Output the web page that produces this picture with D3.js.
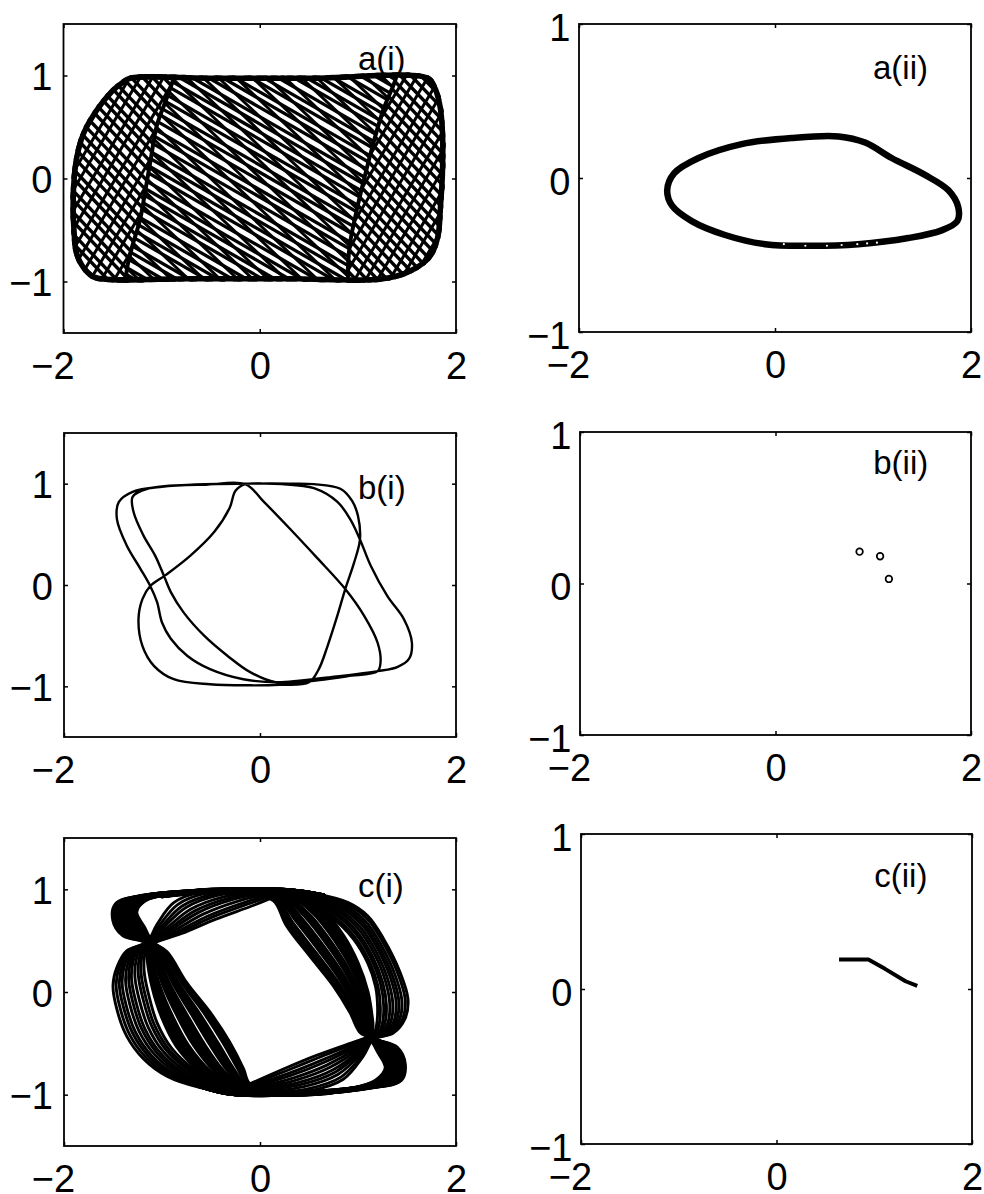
<!DOCTYPE html>
<html>
<head>
<meta charset="utf-8">
<script src="https://cdn.jsdelivr.net/npm/d3@7"></script>
<style>
  html, body { margin: 0; padding: 0; background: #fff; }
  svg { display: block; }
  text { font-family: "Liberation Sans", Arial, Helvetica, sans-serif; fill: #000; }
</style>
</head>
<body>
<svg id="fig" width="984" height="1194"></svg>
<script>
// ---------------- axes ----------------
const xTicks = [-2, 0, 2];
const yTicks = [-1, 0, 1];
const xDomain = [-2, 2];
const yDomainWide = [-1.5, 1.5];   // phase portraits (i)
const yDomainNarrow = [-1, 1];     // sections (ii)

// ---------------- a(i): quasi-periodic orbit ----------------
const aOutline = [[-1.32,1.0],[-0.5,1.0],[0.5,1.0],[1.72,1.0],[1.80,0.91],[1.86,0.73],[1.89,0.45],[1.89,0.06],
  [1.87,-0.27],[1.84,-0.58],[1.75,-0.78],[1.55,-0.92],[1.26,-1.0],[0.3,-1.0],[-0.7,-1.0],[-1.62,-1.0],
  [-1.74,-0.96],[-1.84,-0.85],[-1.90,-0.71],[-1.92,-0.52],[-1.93,-0.27],[-1.92,-0.01],[-1.89,0.22],
  [-1.82,0.45],[-1.69,0.67],[-1.53,0.86],[-1.42,0.95]];
const aLeftEdge = [[-0.86,1.1],[-0.88,0.97],[-0.94,0.80],[-1.05,0.51],[-1.11,0.19],[-1.17,-0.14],
  [-1.22,-0.40],[-1.30,-0.66],[-1.35,-0.86],[-1.38,-1.1]];
const aRightEdge = [[1.42,1.1],[1.38,0.95],[1.26,0.67],[1.16,0.35],[1.07,0.02],[0.99,-0.30],
  [0.92,-0.63],[0.90,-0.86],[0.91,-1.1]];
// strand families: intercepts at each family's reference abscissa
const aLeftSteep = [-1.46,-1.36,-1.24,-1.15,-1.03,-0.94,-0.82,-0.73,-0.61,-0.52,-0.40,-0.31,-0.19,-0.09,
  0.02,0.12,0.23,0.33,0.45,0.55,0.66,0.75,0.87,0.96,1.08,1.17,1.29,1.39,1.50,1.61];
const aLeftCross = [-1.95,-1.77,-1.56,-1.38,-1.18,-1.01,-0.80,-0.62,-0.43,-0.23,-0.05,0.15,0.33,0.53,
  0.70,0.91,1.08,1.29,1.46,1.66];
const aMidMain = [-1.76,-1.68,-1.61,-1.52,-1.44,-1.37,-1.28,-1.21,-1.13,-1.05,-0.96,-0.89,-0.81,-0.74,
  -0.66,-0.57,-0.50,-0.42,-0.35,-0.26,-0.18,-0.11,-0.02,0.06,0.13,0.22,0.29,0.38,0.45,0.53,0.60,0.69,
  0.77,0.84,0.93,1.00,1.08,1.17,1.24,1.32,1.39,1.48,1.56,1.64,1.72];
const aMidCross = [-2.24,-2.09,-1.95,-1.79,-1.63,-1.49,-1.34,-1.18,-1.04,-0.90,-0.74,-0.59,-0.45,-0.29,
  -0.14,0.01,0.17,0.31,0.46,0.60,0.76,0.91,1.05,1.21,1.36,1.50,1.66,1.81,1.96,2.11,2.26];
const aRightSteep = [-1.50,-1.40,-1.29,-1.18,-1.08,-0.98,-0.87,-0.76,-0.66,-0.56,-0.45,-0.34,-0.24,-0.13,
  -0.03,0.08,0.18,0.29,0.40,0.50,0.61,0.71,0.82,0.92,1.03,1.14,1.24,1.34,1.45];
const aRightCross = [-1.80,-1.61,-1.43,-1.23,-1.04,-0.86,-0.66,-0.47,-0.29,-0.09,0.10,0.28,0.48,0.67,
  0.85,1.05,1.24,1.43,1.62,1.81];
const aSlopes = { leftSteep: -1.0, leftCross: 1.6, midMain: -0.55, midCross: -0.9, rightSteep: -1.0, rightCross: 1.6 };
const aRefX = { left: -1.5, mid: 0, right: 1.4 };

// ---------------- a(ii): section, closed curve ----------------
const aiiRing = [[-1.10,-0.08],[-1.03,0.03],[-0.78,0.13],[-0.34,0.22],[0.17,0.26],[0.65,0.27],[0.92,0.23],
  [1.19,0.13],[1.53,0.02],[1.77,-0.08],[1.87,-0.19],[1.86,-0.28],[1.70,-0.34],[1.36,-0.39],[0.85,-0.43],
  [0.34,-0.44],[-0.10,-0.43],[-0.51,-0.37],[-0.85,-0.28],[-1.05,-0.18]];
const aiiMarks = [[0.09,-0.43],[0.31,-0.44],[0.53,-0.44],[0.68,-0.435],[0.84,-0.43],[0.94,-0.425],[1.04,-0.42]];

// ---------------- b(i): period-3 orbit ----------------
const bOrbit = [[0.50,-0.96],[0.20,-0.985],[-0.10,-0.99],[-0.51,-0.98],[-0.88,-0.93],[-1.08,-0.80],
  [-1.20,-0.60],[-1.24,-0.34],[-1.20,-0.14],[-1.12,-0.01],[-0.96,0.10],[-0.71,0.29],[-0.47,0.52],
  [-0.31,0.76],[-0.25,0.93],[-0.15,0.995],[0.05,1.0],[0.22,0.995],[0.55,0.955],[0.79,0.82],[0.92,0.65],[1.02,0.45],
  [1.13,0.19],[1.30,-0.11],[1.47,-0.34],[1.55,-0.57],[1.52,-0.73],[1.40,-0.81],[1.20,-0.85],[0.72,-0.91],
  [0.40,-0.945],[0.18,-0.96],[-0.17,-0.93],[-0.51,-0.83],[-0.74,-0.70],[-0.91,-0.53],[-1.00,-0.37],
  [-1.05,-0.17],[-1.12,-0.01],[-1.22,0.16],[-1.36,0.39],[-1.46,0.65],[-1.44,0.82],[-1.30,0.92],
  [-1.00,0.97],[-0.55,0.99],[-0.15,0.995],[0.04,0.82],[0.31,0.55],[0.58,0.27],[0.87,-0.04],[1.06,-0.30],
  [1.20,-0.57],[1.23,-0.76],[1.20,-0.85],[0.89,-0.90],[0.38,-0.96],[0.18,-0.965],[-0.10,-0.86],
  [-0.33,-0.70],[-0.57,-0.50],[-0.78,-0.27],[-0.91,-0.07],[-0.98,0.09],[-1.07,0.29],[-1.19,0.49],
  [-1.29,0.72],[-1.30,0.87],[-1.15,0.95],[-0.70,0.99],[-0.10,1.0],[0.30,1.0],[0.55,0.995],[0.82,0.95],
  [0.94,0.83],[1.00,0.68],[1.02,0.45],[0.96,0.22],[0.87,-0.04],[0.79,-0.30],[0.69,-0.60],[0.60,-0.83]];

// ---------------- b(ii): section, three points ----------------
const biiPoints = [[0.86,0.21],[1.07,0.18],[1.16,0.03]];

// ---------------- c(i): chaotic orbit, four bundles ----------------
const cLeftCoreInner = [[1.0,-0.93],[0.6,-0.965],[0.1,-0.955],[-0.11,-0.89],[-0.17,-0.75],[-0.31,-0.49],[-0.51,-0.20],
  [-0.75,0.09],[-0.95,0.39],[-1.10,0.49],[-1.18,0.63],[-1.26,0.78],[-1.17,0.89],[-0.9,0.955],[-0.3,0.985],[0.3,0.99],[0.65,0.94]];
const cLeftCoreOuter = [[1.0,-0.935],[0.6,-0.995],[0.05,-0.995],[-0.3,-0.93],[-0.6,-0.78],[-0.85,-0.53],[-1.0,-0.25],
  [-1.1,0.05],[-1.15,0.33],[-1.15,0.47],[-1.40,0.55],[-1.50,0.70],[-1.47,0.86],[-1.2,0.94],[-0.5,0.995],[0.3,0.995],[0.65,0.945]];
const cLeftLobeOuter = [[0.5,-1.0],[-0.2,-0.985],[-0.61,-0.93],[-0.95,-0.82],[-1.19,-0.65],[-1.36,-0.43],
  [-1.46,-0.17],[-1.50,0.06],[-1.46,0.24],[-1.36,0.40],[-1.15,0.49],[-1.05,0.66],[-0.88,0.87],[-0.6,0.975],[0.0,1.0]];
const cLeftLobeInner = [[0.5,-0.97],[-0.2,-0.955],[-0.42,-0.9],[-0.68,-0.75],[-0.9,-0.55],[-1.05,-0.30],
  [-1.13,-0.05],[-1.18,0.18],[-1.18,0.34],[-1.15,0.44],[-1.08,0.48],[-0.80,0.57],[-0.45,0.71],[-0.05,0.85],[0.25,0.97]];
const cRightCoreInner = [[-1.0,0.93],[-0.6,0.965],[-0.1,0.955],[0.14,0.89],[0.27,0.65],[0.51,0.35],[0.75,0.06],
  [0.92,-0.20],[1.02,-0.39],[1.12,-0.45],[1.20,-0.58],[1.28,-0.74],[1.18,-0.86],[0.9,-0.945],[0.3,-0.985],[-0.3,-0.99],[-0.62,-0.915]];
const cRightCoreOuter = [[-1.0,0.935],[-0.6,0.995],[-0.05,0.995],[0.32,0.96],[0.62,0.82],[0.85,0.55],[1.0,0.28],
  [1.1,0.0],[1.15,-0.30],[1.16,-0.44],[1.40,-0.54],[1.48,-0.70],[1.44,-0.86],[1.15,-0.93],[0.5,-0.995],[-0.3,-0.995],[-0.62,-0.92]];
const cRightLobeOuter = [[-0.5,1.0],[0.2,0.99],[0.6,0.95],[0.9,0.87],[1.10,0.74],[1.26,0.52],[1.43,0.19],
  [1.51,-0.07],[1.48,-0.26],[1.36,-0.40],[1.16,-0.46],[1.05,-0.63],[0.85,-0.85],[0.5,-0.965],[-0.1,-1.0]];
const cRightLobeInner = [[-0.5,0.97],[0.2,0.96],[0.45,0.9],[0.72,0.74],[0.95,0.52],[1.10,0.28],[1.18,0.05],
  [1.20,-0.15],[1.19,-0.32],[1.16,-0.41],[1.10,-0.44],[0.95,-0.49],[0.57,-0.62],[0.24,-0.75],[-0.14,-0.91]];
// strand positions across each bundle (0 = inner edge, 1 = outer edge)
const cLeftCoreStrands = [0,0.04,0.08,0.12,0.22,0.26,0.30,0.34,0.38,0.48,0.52,0.56,0.60,0.64,0.68,0.78,0.82,0.86,0.90,0.95,1.0];
const cRightCoreStrands = [0,0.05,0.09,0.13,0.17,0.27,0.31,0.35,0.39,0.43,0.53,0.57,0.61,0.65,0.75,0.79,0.83,0.87,0.91,0.96,1.0];
const cLeftLobeStrands = [0,0.1,0.19,0.3,0.41,0.5,0.6,0.71,0.8,0.9,1.0];
const cRightLobeStrands = [0,0.09,0.2,0.29,0.4,0.5,0.61,0.7,0.8,0.91,1.0];

// ---------------- c(ii): section, short arc ----------------
const ciiArc = [[0.64,0.19],[0.94,0.19],[1.11,0.13],[1.32,0.05],[1.44,0.02]];

// ---------------- panel labels ----------------
const panelLabels = { ai: "a(i)", aii: "a(ii)", bi: "b(i)", bii: "b(ii)", ci: "c(i)", cii: "c(ii)" };
const labelAnchors = { ai: [1.0,1.054], aii: [1.0,0.643], bi: [1.0,0.85], bii: [1.0,0.72], ci: [1.0,0.925], cii: [1.0,0.66] };

// ================= drawing =================
const svg = d3.select("#fig");
const defs = svg.append("defs");
const fmt = d => d < 0 ? "\u2212" + Math.abs(d) : String(d);

const layout = {
  ai:  { left: 63.5, right: 456, top: 24,  bottom: 333,  wide: true },
  aii: { left: 579,  right: 971, top: 24,  bottom: 332,  wide: false },
  bi:  { left: 64,   right: 456, top: 433, bottom: 737,  wide: true },
  bii: { left: 580,  right: 971, top: 432, bottom: 735,  wide: false },
  ci:  { left: 64,   right: 456, top: 838, bottom: 1146, wide: true },
  cii: { left: 581,  right: 972, top: 834, bottom: 1144, wide: false }
};
const TICK_FONT = 38, LABEL_FONT = 33;

function makePanel(key) {
  const L = layout[key];
  const x = d3.scaleLinear().domain(xDomain).range([L.left, L.right]);
  const y = d3.scaleLinear().domain(L.wide ? yDomainWide : yDomainNarrow).range([L.bottom, L.top]);
  const g = svg.append("g").attr("class", "panel-" + key);
  defs.append("clipPath").attr("id", "box-" + key).append("rect")
    .attr("x", L.left).attr("y", L.top).attr("width", L.right - L.left).attr("height", L.bottom - L.top);
  const plot = g.append("g").attr("clip-path", `url(#box-${key})`);
  return { key, L, x, y, g, plot };
}

function drawFrame(p) {
  const { L, x, y, g } = p;
  const yLabelGap = L.wide ? 11 : 8.5;
  const yLabelDrop = L.wide ? 14 : 16;
  // bottom axis with labels
  const ab = g.append("g").attr("transform", `translate(0,${L.bottom})`)
    .call(d3.axisBottom(x).tickValues(xTicks).tickSize(-4).tickFormat(fmt));
  ab.attr("font-size", null).attr("font-family", null);
  ab.select(".domain").remove();
  ab.selectAll(".tick text").attr("y", 46).attr("dy", null).style("font-size", TICK_FONT + "px");
  ab.selectAll(".tick text").filter(d => d < 0).attr("text-anchor", "end").attr("x", 0.278 * TICK_FONT);
  // left axis with labels
  const al = g.append("g").attr("transform", `translate(${L.left},0)`)
    .call(d3.axisLeft(y).tickValues(yTicks).tickSize(-4).tickFormat(fmt));
  al.attr("font-size", null).attr("font-family", null);
  al.select(".domain").remove();
  al.selectAll(".tick text").attr("x", -yLabelGap).attr("dy", null).attr("y", yLabelDrop).style("font-size", TICK_FONT + "px");
  // top and right tick marks
  const at = g.append("g").attr("transform", `translate(0,${L.top})`)
    .call(d3.axisTop(x).tickValues(xTicks).tickSize(-4).tickFormat(""));
  at.select(".domain").remove();
  const ar = g.append("g").attr("transform", `translate(${L.right},0)`)
    .call(d3.axisRight(y).tickValues(yTicks).tickSize(-4).tickFormat(""));
  ar.select(".domain").remove();
  g.selectAll(".tick line").attr("stroke-width", 1.5);
  // box
  g.append("rect").attr("x", L.left).attr("y", L.top)
    .attr("width", L.right - L.left).attr("height", L.bottom - L.top)
    .attr("fill", "none").attr("stroke", "#000").attr("stroke-width", 1.8);
  // panel label
  const [lx, ly] = labelAnchors[p.key];
  g.append("text").attr("x", x(lx)).attr("y", y(ly)).style("font-size", LABEL_FONT + "px").text(panelLabels[p.key]);
}

const lineOf = (p, curve) => d3.line().x(d => p.x(d[0])).y(d => p.y(d[1])).curve(curve);
const blend = (A, B, t) => A.map((a, i) => [a[0] + (B[i][0] - a[0]) * t, a[1] + (B[i][1] - a[1]) * t]);

// ---------- a(i) ----------
(function () {
  const p = makePanel("ai");
  const closed = lineOf(p, d3.curveCatmullRomClosed.alpha(0.5));
  const open = lineOf(p, d3.curveCatmullRom.alpha(0.5));
  const outlinePath = closed(aOutline);
  defs.append("clipPath").attr("id", "ai-outline").append("path").attr("d", outlinePath);
  const far = (xx, yy) => `L${p.x(xx)},${p.y(yy)}`;
  const leftD = open(aLeftEdge) + far(-2.3, -1.1) + far(-2.3, 1.1) + "Z";
  const rightD = open(aRightEdge) + far(2.3, -1.1) + far(2.3, 1.1) + "Z";
  const midD = open(aLeftEdge) + "L" + open(aRightEdge.slice().reverse()).slice(1) + "Z";
  defs.append("clipPath").attr("id", "ai-left").append("path").attr("d", leftD);
  defs.append("clipPath").attr("id", "ai-right").append("path").attr("d", rightD);
  defs.append("clipPath").attr("id", "ai-mid").append("path").attr("d", midD);

  const inside = p.plot.append("g").attr("clip-path", "url(#ai-outline)");
  const straight = lineOf(p, d3.curveLinear);
  const families = [
    { region: "left",  m: aSlopes.leftSteep,  ref: aRefX.left,  b: aLeftSteep,  w: 3.4 },
    { region: "left",  m: aSlopes.leftCross,  ref: aRefX.left,  b: aLeftCross,  w: 3.0 },
    { region: "mid",   m: aSlopes.midMain,    ref: aRefX.mid,   b: aMidMain,    w: 3.3 },
    { region: "mid",   m: aSlopes.midCross,   ref: aRefX.mid,   b: aMidCross,   w: 2.9 },
    { region: "right", m: aSlopes.rightSteep, ref: aRefX.right, b: aRightSteep, w: 3.4 },
    { region: "right", m: aSlopes.rightCross, ref: aRefX.right, b: aRightCross, w: 3.0 }
  ];
  const regionGroups = {};
  ["left", "mid", "right"].forEach(r => {
    regionGroups[r] = inside.append("g").attr("clip-path", `url(#ai-${r})`);
  });
  families.forEach(f => {
    regionGroups[f.region].append("g").selectAll("path").data(f.b).join("path")
      .attr("d", b => straight([[-2.3, b + f.m * (-2.3 - f.ref)], [2.3, b + f.m * (2.3 - f.ref)]]))
      .attr("fill", "none").attr("stroke", "#000").attr("stroke-width", f.w);
  });
  // envelope curves and the rim of the orbit
  inside.append("path").attr("d", open(aLeftEdge)).attr("fill", "none").attr("stroke", "#000").attr("stroke-width", 4);
  inside.append("path").attr("d", open(aRightEdge)).attr("fill", "none").attr("stroke", "#000").attr("stroke-width", 4);
  inside.append("path").attr("d", outlinePath).attr("fill", "none").attr("stroke", "#000").attr("stroke-width", 11);
  drawFrame(p);
})();

// ---------- a(ii) ----------
(function () {
  const p = makePanel("aii");
  p.plot.append("path").attr("d", lineOf(p, d3.curveCatmullRomClosed.alpha(0.5))(aiiRing))
    .attr("fill", "none").attr("stroke", "#000").attr("stroke-width", 6.5);
  p.plot.selectAll("circle").data(aiiMarks).join("circle")
    .attr("cx", d => p.x(d[0])).attr("cy", d => p.y(d[1])).attr("r", 1.1).attr("fill", "#fff");
  drawFrame(p);
})();

// ---------- b(i) ----------
(function () {
  const p = makePanel("bi");
  p.plot.append("path").attr("d", lineOf(p, d3.curveCatmullRomClosed.alpha(0.5))(bOrbit))
    .attr("fill", "none").attr("stroke", "#000").attr("stroke-width", 2.4).attr("stroke-linejoin", "round");
  drawFrame(p);
})();

// ---------- b(ii) ----------
(function () {
  const p = makePanel("bii");
  p.plot.selectAll("circle").data(biiPoints).join("circle")
    .attr("cx", d => p.x(d[0])).attr("cy", d => p.y(d[1])).attr("r", 3.3)
    .attr("fill", "#fff").attr("stroke", "#000").attr("stroke-width", 1.7);
  drawFrame(p);
})();

// ---------- c(i) ----------
(function () {
  const p = makePanel("ci");
  const open = lineOf(p, d3.curveCatmullRom.alpha(0.5));
  const bundles = [
    { inner: cLeftLobeInner,  outer: cLeftLobeOuter,  t: cLeftLobeStrands,  w: 2.9 },
    { inner: cRightLobeInner, outer: cRightLobeOuter, t: cRightLobeStrands, w: 2.9 },
    { inner: cLeftCoreInner,  outer: cLeftCoreOuter,  t: cLeftCoreStrands,  w: 3.4 },
    { inner: cRightCoreInner, outer: cRightCoreOuter, t: cRightCoreStrands, w: 3.4 }
  ];
  bundles.forEach(bd => {
    p.plot.append("g").selectAll("path").data(bd.t).join("path")
      .attr("d", t => open(blend(bd.inner, bd.outer, t)))
      .attr("fill", "none").attr("stroke", "#000").attr("stroke-width", bd.w).attr("stroke-linecap", "round");
  });
  drawFrame(p);
})();

// ---------- c(ii) ----------
(function () {
  const p = makePanel("cii");
  p.plot.append("path").attr("d", lineOf(p, d3.curveLinear)(ciiArc))
    .attr("fill", "none").attr("stroke", "#000").attr("stroke-width", 4).attr("stroke-linejoin", "round");
  drawFrame(p);
})();
</script>
</body>
</html>
